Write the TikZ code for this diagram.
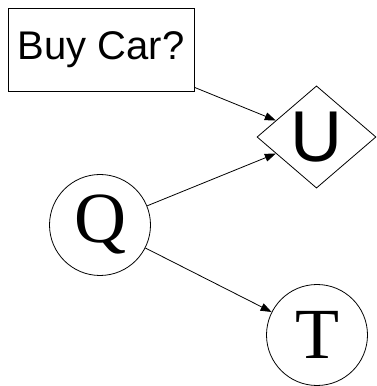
\documentclass[tikz,border=0pt]{standalone}
\usepackage{fontspec}
\setmainfont{Liberation Serif}
\newfontfamily\hsans{Liberation Sans}
\usetikzlibrary{shapes.geometric,arrows.meta}
\tikzset{
  every picture/.style={x=1pt,y=1pt},
  boxnode/.style={draw,line width=0.8pt,minimum width=186pt,minimum height=83pt,inner sep=0pt,font=\hsans\fontsize{40}{40}\selectfont},
  utilnode/.style={draw,diamond,line width=0.8pt,minimum width=119pt,minimum height=102pt,inner sep=0pt,font=\hsans\fontsize{72}{72}\selectfont},
  chancenode/.style={draw,circle,line width=0.8pt,minimum size=101pt,inner sep=0pt,font=\fontsize{72}{72}\selectfont},
  conn/.style={line width=0.8pt,-{Triangle[length=11pt,width=8pt]}}
}
\begin{document}
\begin{tikzpicture}
\useasboundingbox (0,0) rectangle (376,386);
\node[boxnode] (buy) at (101,336.5) {Buy Car?};
\node[utilnode] (u) at (316.5,249) {U};
\node[chancenode] (q) at (100,161) {Q};
\node[chancenode] (t) at (317,51) {T};
\draw[conn] (buy) -- (u);
\draw[conn] (q) -- (u);
\draw[conn] (q) -- (t);
\end{tikzpicture}
\end{document}
